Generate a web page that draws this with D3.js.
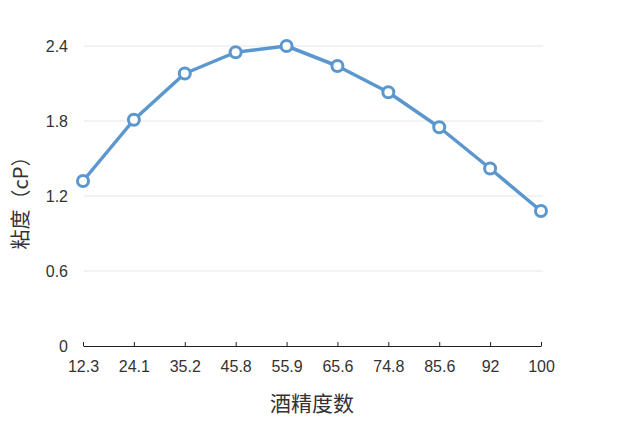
<!DOCTYPE html>
<html>
<head>
<meta charset="utf-8">
<script src="https://cdn.jsdelivr.net/npm/d3@7"></script>
<style>
  body { margin: 0; background: #fff; }
  text { font-family: "Liberation Sans", Arial, sans-serif; fill: #333; }
  .cjk { font-family: "Noto Sans CJK SC", sans-serif; }
</style>
</head>
<body>
<div id="container"></div>
<script>
const categories = ['12.3', '24.1', '35.2', '45.8', '55.9', '65.6', '74.8', '85.6', '92', '100'];
const viscosity = [1.32, 1.81, 2.18, 2.35, 2.4, 2.24, 2.03, 1.75, 1.42, 1.08];
const yTicks = [0, 0.6, 1.2, 1.8, 2.4];

const w = 640,
  h = 427;

const svg = d3.select('#container').append('svg').attr('width', w).attr('height', h);

const xScale = d3.scalePoint().domain(categories).range([83, 541]);
const yScale = d3.scaleLinear().domain([0, 2.4]).range([346, 46]);

// grid lines
svg
  .append('g')
  .selectAll('line')
  .data(yTicks.filter((d) => d > 0))
  .enter()
  .append('line')
  .attr('x1', 84)
  .attr('x2', 543)
  .attr('y1', (d) => yScale(d))
  .attr('y2', (d) => yScale(d))
  .attr('stroke', '#e6e6e6')
  .attr('stroke-width', 1);

// y tick labels
svg
  .append('g')
  .selectAll('text')
  .data(yTicks)
  .enter()
  .append('text')
  .attr('x', 68)
  .attr('y', (d) => yScale(d) + 5.5)
  .attr('text-anchor', 'end')
  .style('font-size', '16px')
  .text((d) => (d === 0 ? '0' : d.toFixed(1)));

// x axis
const xAxis = d3.axisBottom(xScale).tickSize(-4).tickPadding(15);
const gx = svg.append('g').attr('transform', 'translate(0,346)').call(xAxis);
gx.select('.domain').attr('d', 'M83.5,0.5H541.5').attr('stroke', '#222').attr('stroke-width', 1.2);
gx.selectAll('.tick line').attr('stroke', '#222');
gx.selectAll('.tick text')
  .style('font-size', '16px')
  .style('font-family', '"Liberation Sans", Arial, sans-serif')
  .attr('fill', '#333');

// line
const line = d3
  .line()
  .x((d, i) => xScale(categories[i]))
  .y((d) => yScale(d));

svg
  .append('path')
  .datum(viscosity)
  .attr('d', line)
  .attr('fill', 'none')
  .attr('stroke', '#5b97cf')
  .attr('stroke-width', 3.5)
  .attr('stroke-linejoin', 'round');

svg
  .selectAll('circle.dot')
  .data(viscosity)
  .enter()
  .append('circle')
  .attr('class', 'dot')
  .attr('cx', (d, i) => xScale(categories[i]))
  .attr('cy', (d) => yScale(d))
  .attr('r', 5.5)
  .attr('fill', '#fff')
  .attr('stroke', '#5b97cf')
  .attr('stroke-width', 3);

// axis titles
svg
  .append('text')
  .attr('class', 'cjk')
  .attr('x', 312)
  .attr('y', 411)
  .attr('text-anchor', 'middle')
  .style('font-size', '21px')
  .text('酒精度数');

svg
  .append('text')
  .attr('class', 'cjk')
  .attr('transform', 'translate(28,198) rotate(-90)')
  .attr('text-anchor', 'middle')
  .style('font-size', '20px')
  .text('粘度（cP）');
</script>
</body>
</html>
